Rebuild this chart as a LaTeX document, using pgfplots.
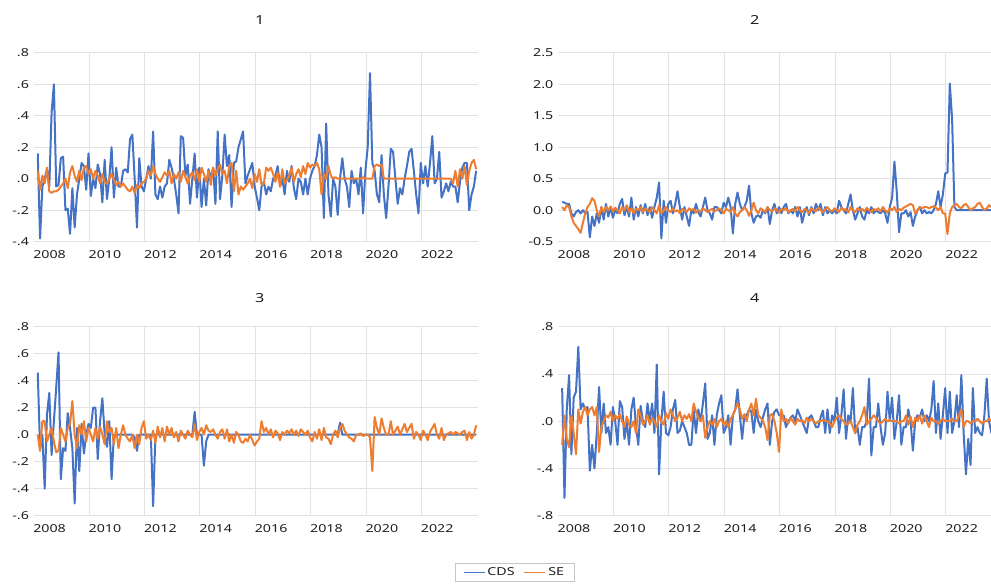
\documentclass[border=0pt]{standalone}
\usepackage{pgfplots}
\pgfplotsset{compat=1.18}
\usepackage{pgfplotstable}
\usepackage{fontspec}
\setmainfont{Noto Sans}[FakeStretch=1.3]
\definecolor{cdsblue}{RGB}{68,114,196}
\definecolor{seorange}{RGB}{237,125,49}
\definecolor{gridgray}{RGB}{226,226,226}
\definecolor{txt}{RGB}{30,30,30}

% values in hundredths, monthly from early 2008 to end 2023
\pgfplotstableread[row sep=\\]{v\\
16\\-38\\-5\\0\\6\\-5\\42\\60\\-5\\-4\\13\\14\\
-20\\-19\\-35\\-6\\-31\\-10\\0\\10\\8\\-7\\16\\-11\\
0\\-6\\9\\3\\-15\\12\\-13\\0\\20\\-12\\7\\-5\\
-5\\5\\6\\4\\25\\28\\0\\-31\\13\\-5\\-8\\0\\
8\\0\\30\\-10\\-13\\-5\\-12\\-5\\-3\\12\\7\\0\\
-10\\-22\\27\\26\\2\\9\\-16\\0\\16\\-12\\7\\-18\\
0\\-17\\6\\0\\7\\-16\\30\\-13\\2\\28\\8\\15\\
-18\\10\\11\\20\\25\\30\\-3\\2\\6\\10\\-5\\-12\\
-20\\-5\\-2\\-10\\-5\\-8\\0\\2\\8\\-5\\0\\-10\\
5\\-2\\8\\-6\\-13\\0\\-2\\-10\\0\\-10\\0\\5\\
8\\15\\28\\20\\-25\\35\\-10\\-24\\0\\-5\\-23\\0\\
13\\0\\-5\\-18\\5\\-3\\0\\-10\\7\\-22\\5\\20\\
67\\10\\5\\-10\\-15\\15\\-10\\-25\\-5\\19\\17\\0\\
-16\\-6\\-10\\0\\8\\17\\19\\5\\-10\\-22\\10\\-3\\
8\\-5\\10\\27\\-3\\0\\17\\-12\\-8\\-3\\-8\\-2\\
-5\\-5\\-15\\-2\\7\\10\\10\\-20\\-10\\-5\\5\\
}\cA
\pgfplotstableread[row sep=\\]{v\\
5\\-7\\2\\-3\\7\\-8\\-9\\-8\\-8\\-7\\-5\\-3\\
0\\-6\\4\\8\\2\\-2\\5\\-1\\7\\8\\3\\6\\
0\\5\\2\\-3\\3\\-2\\-3\\0\\3\\-1\\-4\\-2\\
-5\\-3\\-5\\-7\\-8\\-5\\-9\\-4\\-6\\-3\\-2\\0\\
5\\2\\8\\3\\0\\-2\\1\\4\\2\\5\\-3\\3\\
0\\4\\-2\\5\\1\\-3\\2\\4\\-1\\6\\-2\\7\\
3\\-2\\5\\-4\\7\\2\\6\\9\\3\\5\\-3\\8\\
10\\-8\\5\\-10\\-5\\-7\\-5\\-3\\0\\-6\\3\\-2\\
6\\-4\\-3\\7\\5\\7\\3\\-2\\4\\-5\\6\\-3\\
-1\\2\\7\\-2\\3\\6\\1\\8\\3\\10\\7\\9\\
8\\10\\6\\-10\\3\\0\\8\\2\\0\\1\\0\\0\\
0\\0\\0\\0\\0\\0\\0\\0\\0\\1\\0\\0\\
0\\0\\8\\9\\8\\9\\0\\0\\0\\0\\0\\0\\
0\\0\\0\\0\\0\\0\\0\\0\\0\\0\\0\\0\\
0\\0\\0\\0\\0\\0\\0\\0\\0\\0\\0\\0\\
-3\\5\\-5\\6\\0\\8\\-4\\5\\10\\12\\6\\
}\sA
\pgfplotstableread[row sep=\\]{v\\
13\\12\\10\\10\\-5\\-10\\-3\\0\\-5\\0\\-5\\-3\\
-43\\-10\\-25\\-5\\-20\\5\\-15\\10\\-10\\5\\-12\\0\\
-5\\10\\18\\-8\\5\\-10\\20\\-15\\5\\-10\\8\\-5\\
10\\-8\\5\\-12\\5\\20\\44\\-45\\15\\-20\\10\\15\\
-5\\10\\30\\5\\-15\\5\\-10\\-25\\0\\-5\\10\\-3\\
-10\\5\\20\\0\\-5\\-15\\5\\5\\0\\-5\\12\\5\\
20\\5\\-37\\10\\28\\10\\0\\5\\15\\39\\-5\\-20\\
-10\\-8\\-12\\0\\-5\\5\\-22\\0\\10\\-5\\5\\-5\\
5\\10\\-5\\0\\-5\\5\\-10\\5\\-20\\-5\\5\\-8\\
5\\-5\\10\\0\\10\\-8\\5\\-5\\0\\-5\\0\\-5\\
15\\5\\0\\-5\\10\\25\\0\\-15\\-5\\5\\-10\\-15\\
0\\-5\\5\\-5\\0\\-3\\-5\\0\\-5\\-20\\5\\20\\
77\\30\\-35\\-5\\-5\\0\\-10\\-3\\-25\\-10\\0\\5\\
-5\\0\\-5\\-3\\-5\\0\\10\\30\\5\\25\\58\\60\\
201\\145\\5\\0\\0\\0\\0\\0\\0\\0\\0\\0\\
0\\0\\0\\0\\0\\0\\0\\0\\0\\0\\0\\
}\cB
\pgfplotstableread[row sep=\\]{v\\
5\\0\\8\\5\\-10\\-20\\-25\\-30\\-36\\-20\\-5\\5\\
10\\19\\15\\0\\-10\\5\\-3\\5\\0\\6\\-2\\4\\
0\\-5\\5\\0\\8\\-3\\3\\-5\\2\\0\\5\\-3\\
3\\0\\-3\\5\\0\\-5\\8\\-5\\0\\5\\0\\-3\\
3\\-2\\0\\-5\\2\\0\\-3\\3\\0\\2\\-4\\0\\
-2\\3\\0\\-3\\0\\2\\-2\\0\\3\\0\\-5\\2\\
0\\-3\\5\\-5\\-10\\-3\\0\\5\\0\\-9\\0\\12\\
0\\-5\\3\\0\\-3\\5\\0\\-2\\3\\0\\-4\\2\\
0\\3\\-3\\0\\2\\-2\\5\\0\\-3\\2\\0\\-5\\
3\\0\\-2\\4\\0\\-3\\2\\5\\0\\-2\\3\\0\\
-3\\4\\0\\2\\-4\\5\\0\\-3\\3\\0\\2\\-2\\
4\\0\\-3\\2\\0\\3\\-2\\5\\0\\-4\\3\\0\\
5\\-3\\2\\0\\4\\6\\8\\10\\8\\-5\\0\\5\\
3\\5\\5\\3\\5\\6\\4\\0\\5\\-5\\-5\\-38\\
-5\\5\\8\\10\\5\\3\\8\\10\\5\\0\\3\\5\\
10\\12\\5\\0\\3\\8\\5\\10\\6\\4\\8\\
}\sB
\pgfplotstableread[row sep=\\]{v\\
46\\-10\\0\\-40\\15\\31\\-15\\10\\35\\61\\-33\\-10\\
-12\\16\\5\\-10\\-51\\5\\-27\\8\\-14\\0\\8\\5\\
20\\20\\-18\\10\\27\\0\\-9\\10\\-33\\0\\0\\0\\
0\\0\\0\\0\\0\\0\\-2\\-12\\0\\0\\0\\0\\
0\\0\\-53\\0\\0\\0\\0\\0\\0\\0\\0\\0\\
0\\0\\0\\0\\0\\0\\0\\0\\17\\0\\0\\0\\
-23\\-5\\0\\0\\0\\0\\0\\0\\0\\0\\0\\0\\
0\\0\\0\\0\\0\\0\\0\\0\\0\\0\\0\\0\\
0\\0\\0\\0\\0\\0\\0\\0\\0\\0\\0\\0\\
0\\0\\0\\0\\0\\0\\0\\0\\0\\0\\0\\0\\
0\\0\\0\\0\\0\\0\\0\\0\\0\\0\\0\\9\\
0\\0\\0\\0\\0\\0\\0\\0\\0\\0\\0\\0\\
0\\0\\0\\0\\0\\0\\0\\0\\0\\0\\0\\0\\
0\\0\\0\\0\\0\\0\\0\\0\\0\\0\\0\\0\\
0\\0\\0\\0\\0\\0\\0\\0\\0\\0\\0\\0\\
0\\0\\0\\0\\0\\0\\0\\0\\0\\0\\0\\
}\cC
\pgfplotstableread[row sep=\\]{v\\
0\\-12\\10\\10\\-5\\0\\5\\-5\\-13\\-12\\5\\0\\
-5\\5\\8\\25\\0\\-10\\7\\0\\10\\-5\\5\\0\\
-5\\5\\-3\\6\\0\\-7\\10\\2\\5\\-7\\5\\-10\\
0\\7\\0\\-3\\-5\\0\\-10\\0\\-7\\5\\10\\-3\\
0\\-4\\3\\-6\\6\\-2\\5\\-5\\6\\0\\5\\-2\\
2\\-5\\3\\0\\-3\\3\\0\\-2\\8\\-4\\2\\5\\
0\\7\\3\\2\\4\\0\\-3\\2\\4\\-3\\4\\-5\\
0\\-6\\2\\0\\-5\\-6\\-3\\-5\\0\\-4\\-8\\-5\\
-3\\10\\2\\5\\0\\4\\-2\\3\\1\\-4\\2\\0\\
3\\1\\4\\0\\3\\-1\\4\\2\\0\\3\\-2\\-5\\
2\\-3\\4\\-4\\5\\-2\\-3\\-7\\0\\3\\-2\\5\\
8\\3\\0\\-2\\-3\\-5\\0\\0\\1\\-1\\0\\0\\
-2\\-27\\13\\5\\0\\12\\5\\0\\0\\10\\0\\3\\
6\\0\\4\\8\\2\\5\\8\\-3\\2\\0\\-4\\3\\
0\\-4\\2\\5\\8\\0\\-3\\5\\-4\\0\\1\\2\\
0\\2\\1\\0\\2\\3\\-4\\2\\-3\\0\\7\\
}\sC
\pgfplotstableread[row sep=\\]{v\\
28\\-65\\10\\39\\-28\\20\\25\\63\\10\\15\\10\\12\\
-42\\-20\\-40\\-10\\29\\-10\\15\\-10\\-5\\-20\\12\\0\\
-20\\17\\12\\-15\\0\\-20\\10\\20\\-5\\-20\\13\\0\\
-5\\15\\0\\15\\-10\\48\\-45\\0\\25\\-10\\-12\\-5\\
10\\18\\-10\\-8\\0\\-5\\-10\\-20\\-20\\10\\-10\\10\\
0\\15\\32\\-15\\-10\\5\\-20\\5\\15\\22\\-10\\-5\\
5\\-20\\5\\10\\27\\5\\-15\\5\\5\\10\\8\\-10\\
10\\0\\-5\\3\\10\\15\\-20\\0\\8\\10\\5\\5\\
5\\-5\\0\\3\\5\\0\\10\\5\\0\\-5\\-10\\3\\
5\\0\\-5\\-5\\3\\9\\-10\\10\\-10\\5\\0\\20\\
-10\\5\\27\\-15\\5\\0\\28\\-10\\-5\\-20\\-5\\-5\\
0\\36\\-29\\-5\\-5\\15\\-5\\-20\\-10\\25\\0\\20\\
-15\\0\\22\\-20\\-5\\-5\\10\\0\\-25\\0\\5\\3\\
10\\0\\5\\0\\10\\34\\-10\\15\\-15\\5\\28\\-10\\
25\\-10\\0\\22\\-5\\39\\-10\\-45\\-15\\-37\\28\\-10\\
-5\\-10\\-12\\5\\36\\0\\-10\\5\\-5\\10\\0\\
}\cD
\pgfplotstableread[row sep=\\]{v\\
-20\\5\\-15\\-22\\5\\-10\\-28\\10\\-2\\8\\12\\5\\
10\\12\\5\\12\\-26\\-5\\0\\5\\3\\8\\0\\5\\
2\\6\\0\\-5\\4\\-3\\-5\\0\\-10\\10\\5\\-3\\
0\\5\\-3\\3\\0\\-5\\5\\0\\-3\\7\\2\\10\\
5\\0\\3\\8\\0\\5\\2\\6\\0\\15\\8\\3\\
0\\5\\-14\\-5\\0\\-3\\2\\-5\\0\\2\\-3\\0\\
-5\\2\\5\\10\\15\\10\\2\\6\\0\\10\\15\\5\\
19\\5\\3\\0\\-5\\-16\\5\\6\\0\\-10\\-26\\10\\
0\\2\\-2\\3\\0\\-3\\2\\0\\1\\-2\\3\\0\\
2\\0\\-2\\0\\0\\1\\0\\0\\-2\\-5\\0\\3\\
5\\2\\0\\-3\\-2\\0\\-5\\-10\\-3\\0\\5\\12\\
-3\\0\\2\\5\\3\\0\\-2\\0\\2\\0\\1\\0\\
0\\0\\-2\\0\\0\\5\\-3\\4\\-5\\3\\0\\5\\
-2\\5\\0\\-5\\3\\0\\0\\-2\\0\\2\\0\\0\\
0\\2\\0\\0\\5\\10\\-5\\0\\0\\-2\\0\\0\\
2\\0\\-2\\0\\0\\2\\0\\0\\0\\2\\0\\
}\sD

\pgfplotsset{
  panel/.style={
    scale only axis, width=444.4bp, height=189bp,
    xmin=2008, xmax=2024.05,
    axis line style={draw=none},
    major tick length=0pt,
    grid=major, grid style={gridgray, line width=0.7bp},
    xtick={2010,2012,2014,2016,2018,2020,2022},
    xticklabels={2010,2012,2014,2016,2018,2020,2022},
    extra x ticks={2008}, extra x tick labels={2008},
    extra x tick style={grid=none},
    xticklabel style={anchor=north west, inner sep=0pt, yshift=-9bp, xshift=-0.5bp},
    yticklabel style={anchor=east, inner sep=0pt, xshift=-4.5bp},
    tick label style={font=\fontsize{11}{13}\selectfont, text=txt},
    every axis plot/.append style={line width=2bp, line join=round, mark=none},
  },
  ttl/.style n args={2}{every axis title/.style={at={(#1,1)}, anchor=base, yshift=#2, font=\fontsize{12.5}{14}\selectfont, text=txt}},
}

\begin{document}
\begin{tikzpicture}
\useasboundingbox (0bp,0bp) rectangle (991bp,584bp);
% panel 1
\begin{axis}[panel, at={(33.6bp,342.3bp)}, anchor=south west,
  ymin=-0.4, ymax=0.8, ytick={-0.4,-0.2,0,0.2,0.4,0.6,0.8},
  yticklabels={-.4,-.2,.0,.2,.4,.6,.8},
  title={1}, ttl={0.509}{28.5bp}]
\addplot[cdsblue] table[x index=0, y index=0, x expr=2008.15+\coordindex/12, y expr=\thisrowno{0}/100]{\cA};
\addplot[seorange] table[x index=0, y index=0, x expr=2008.15+\coordindex/12, y expr=\thisrowno{0}/100]{\sA};
\end{axis}
% panel 2
\begin{axis}[panel, at={(558bp,342.3bp)}, anchor=south west,
  ymin=-0.5, ymax=2.5, ytick={-0.5,0,0.5,1,1.5,2,2.5},
  yticklabels={-0.5,0.0,0.5,1.0,1.5,2.0,2.5},
  title={2}, ttl={0.443}{28.5bp}]
\addplot[cdsblue] table[x index=0, y index=0, x expr=2008.15+\coordindex/12, y expr=\thisrowno{0}/100]{\cB};
\addplot[seorange] table[x index=0, y index=0, x expr=2008.15+\coordindex/12, y expr=\thisrowno{0}/100]{\sB};
\end{axis}
% panel 3
\begin{axis}[panel, at={(33.6bp,68.3bp)}, anchor=south west,
  ymin=-0.6, ymax=0.8, ytick={-0.6,-0.4,-0.2,0,0.2,0.4,0.6,0.8},
  yticklabels={-.6,-.4,-.2,.0,.2,.4,.6,.8},
  title={3}, ttl={0.509}{24.5bp},
  legend style={at={(1.082,-0.30)}, anchor=center, draw=gray!45, line width=0.6bp,
    font=\fontsize{11}{13}\selectfont, text=txt, legend columns=2,
    inner xsep=8bp, inner ysep=2.5bp,
    /tikz/every even column/.append style={column sep=7bp}},
  legend image code/.code={\draw[#1, line width=1.6bp] (0bp,0bp) -- (21bp,0bp);}]
\addplot[cdsblue] table[x index=0, y index=0, x expr=2008.15+\coordindex/12, y expr=\thisrowno{0}/100]{\cC};
\addlegendentry{CDS}
\addplot[seorange] table[x index=0, y index=0, x expr=2008.15+\coordindex/12, y expr=\thisrowno{0}/100]{\sC};
\addlegendentry{SE}
\end{axis}
% panel 4
\begin{axis}[panel, at={(558bp,68.3bp)}, anchor=south west,
  ymin=-0.8, ymax=0.8, ytick={-0.8,-0.4,0,0.4,0.8},
  yticklabels={-.8,-.4,.0,.4,.8},
  title={4}, ttl={0.443}{24.5bp}]
\addplot[cdsblue] table[x index=0, y index=0, x expr=2008.15+\coordindex/12, y expr=\thisrowno{0}/100]{\cD};
\addplot[seorange] table[x index=0, y index=0, x expr=2008.15+\coordindex/12, y expr=\thisrowno{0}/100]{\sD};
\end{axis}
\end{tikzpicture}
\end{document}
